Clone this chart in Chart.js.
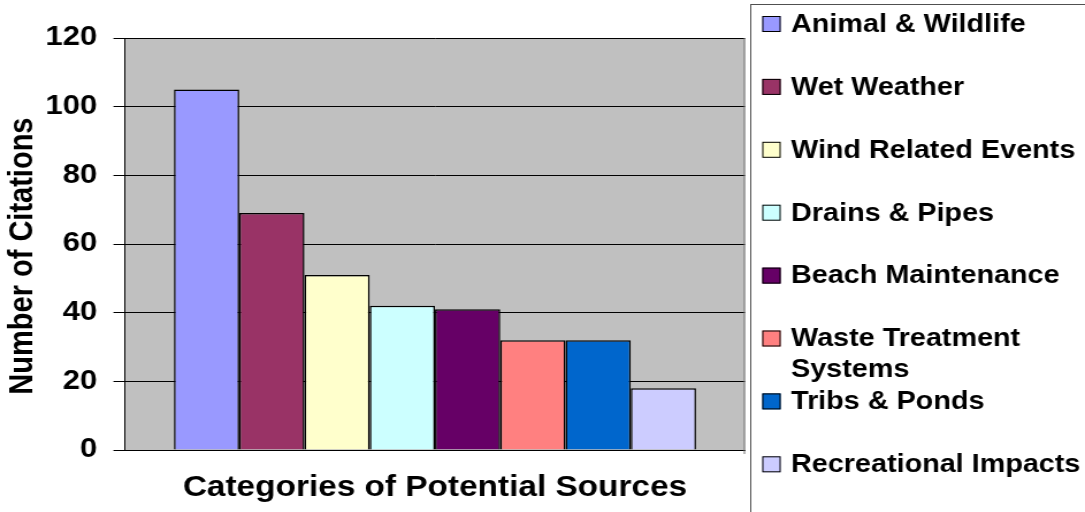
<!DOCTYPE html>
<html>
<head>
<meta charset="utf-8">
<title>Categories of Potential Sources</title>
<script src="https://cdn.jsdelivr.net/npm/chart.js@4/dist/chart.umd.min.js"></script>
<style>
    html, body { margin: 0; padding: 0; background: #ffffff; overflow: hidden; }
</style>
</head>
<body>
<!-- the source picture is stretched sideways, so the canvas is drawn narrow and widened;
     the size is inline so Chart.js keeps it -->
<canvas id="sourcesChart" width="943" height="512" style="display:block;width:1085px;height:512px;"></canvas>
<script>
// Chart data
const sourceLabels = [
    'Animal & Wildlife',
    'Wet Weather',
    'Wind Related Events',
    'Drains & Pipes',
    'Beach Maintenance',
    'Waste Treatment\nSystems',
    'Tribs & Ponds',
    'Recreational Impacts'
];
const citationCounts = [105, 69, 51, 42, 41, 32, 32, 18];
const barColors = ['#9999FF', '#993366', '#FFFFCC', '#CCFFFF', '#660066', '#FF8080', '#0066CC', '#CCCCFF'];
const yAxisMin = 0;
const yAxisMax = 120;
const yAxisStep = 20;

const FONT_FAMILY = "'Liberation Sans', Arial, sans-serif";

// Gray plot area like the old Excel default
const plotBackground = {
    id: 'plotBackground',
    beforeDraw(chart) {
        const { ctx, chartArea } = chart;
        ctx.save();
        ctx.fillStyle = '#C0C0C0';
        ctx.fillRect(chartArea.left, chartArea.top, chartArea.right - chartArea.left, chartArea.bottom - chartArea.top);
        ctx.restore();
    },
    afterDraw(chart) {
        const { ctx, chartArea } = chart;
        ctx.save();
        ctx.strokeStyle = '#707070';
        ctx.lineWidth = 1;
        ctx.beginPath();
        ctx.moveTo(chartArea.right - 0.5, chartArea.top);
        ctx.lineTo(chartArea.right - 0.5, chartArea.bottom + 4);
        ctx.stroke();
        ctx.restore();
    }
};

// Boxed legend on the right, one row per dataset
const sideLegend = {
    id: 'sideLegend',
    afterDraw(chart) {
        const { ctx, chartArea } = chart;
        const boxLeft = Math.round(chartArea.right + 4) + 0.5;
        const rowStart = 24;
        const rowStep = 62.9;
        const lineStep = 31;
        const marker = 16;

        ctx.save();
        ctx.strokeStyle = '#505050';
        ctx.lineWidth = 1;
        ctx.strokeRect(boxLeft, 4.5, chart.width, chart.height);

        ctx.font = `bold 25px ${FONT_FAMILY}`;
        ctx.textBaseline = 'middle';
        ctx.fillStyle = '#000000';

        chart.data.datasets.forEach((ds, i) => {
            const y = rowStart + i * rowStep;
            ctx.fillStyle = ds.backgroundColor;
            ctx.fillRect(boxLeft + 10, y - marker / 2, marker, marker);
            ctx.strokeStyle = '#000000';
            ctx.strokeRect(boxLeft + 10.5, y - marker / 2 + 0.5, marker - 1, marker - 1);

            ctx.fillStyle = '#000000';
            ds.legendLines.forEach((line, j) => {
                ctx.fillText(line, boxLeft + 35, y + 1 + j * lineStep);
            });
        });
        ctx.restore();
    }
};

const datasets = sourceLabels.map((label, i) => ({
    label: label.replace('\n', ' '),
    legendLines: label.split('\n'),
    data: [citationCounts[i]],
    backgroundColor: barColors[i],
    borderColor: '#000000',
    borderWidth: 1.5,
    borderSkipped: 'bottom'
}));

new Chart(document.getElementById('sourcesChart'), {
    type: 'bar',
    data: {
        labels: [''],
        datasets: datasets
    },
    options: {
        responsive: false,
        animation: false,
        layout: {
            padding: { top: 38, right: 295.5, bottom: 0, left: 0 }
        },
        categoryPercentage: 0.842,
        barPercentage: 1.0,
        plugins: {
            legend: { display: false },
            tooltip: { enabled: false }
        },
        scales: {
            x: {
                grid: { display: false },
                border: { display: true, color: '#000000', width: 1 },
                ticks: { display: false },
                title: {
                    display: true,
                    text: 'Categories of Potential Sources',
                    color: '#000000',
                    font: { family: FONT_FAMILY, size: 29, weight: 'bold' },
                    padding: { top: 0, bottom: 7 }
                },
                afterFit(scale) {
                    scale.height = 62;
                }
            },
            y: {
                min: yAxisMin,
                max: yAxisMax,
                ticks: {
                    stepSize: yAxisStep,
                    color: '#000000',
                    padding: 14,
                    font: { family: FONT_FAMILY, size: 27, weight: 'bold' }
                },
                grid: {
                    color: '#000000',
                    lineWidth: 1,
                    tickLength: 10
                },
                border: { display: true, color: '#000000', width: 1 },
                title: {
                    display: true,
                    text: 'Number of Citations   ',
                    color: '#000000',
                    font: { family: FONT_FAMILY, size: 29, weight: 'bold' },
                    padding: { top: 3, bottom: 0 }
                },
                afterFit(scale) {
                    scale.width = 108.6;
                }
            }
        }
    },
    plugins: [plotBackground, sideLegend]
});
</script>
</body>
</html>
